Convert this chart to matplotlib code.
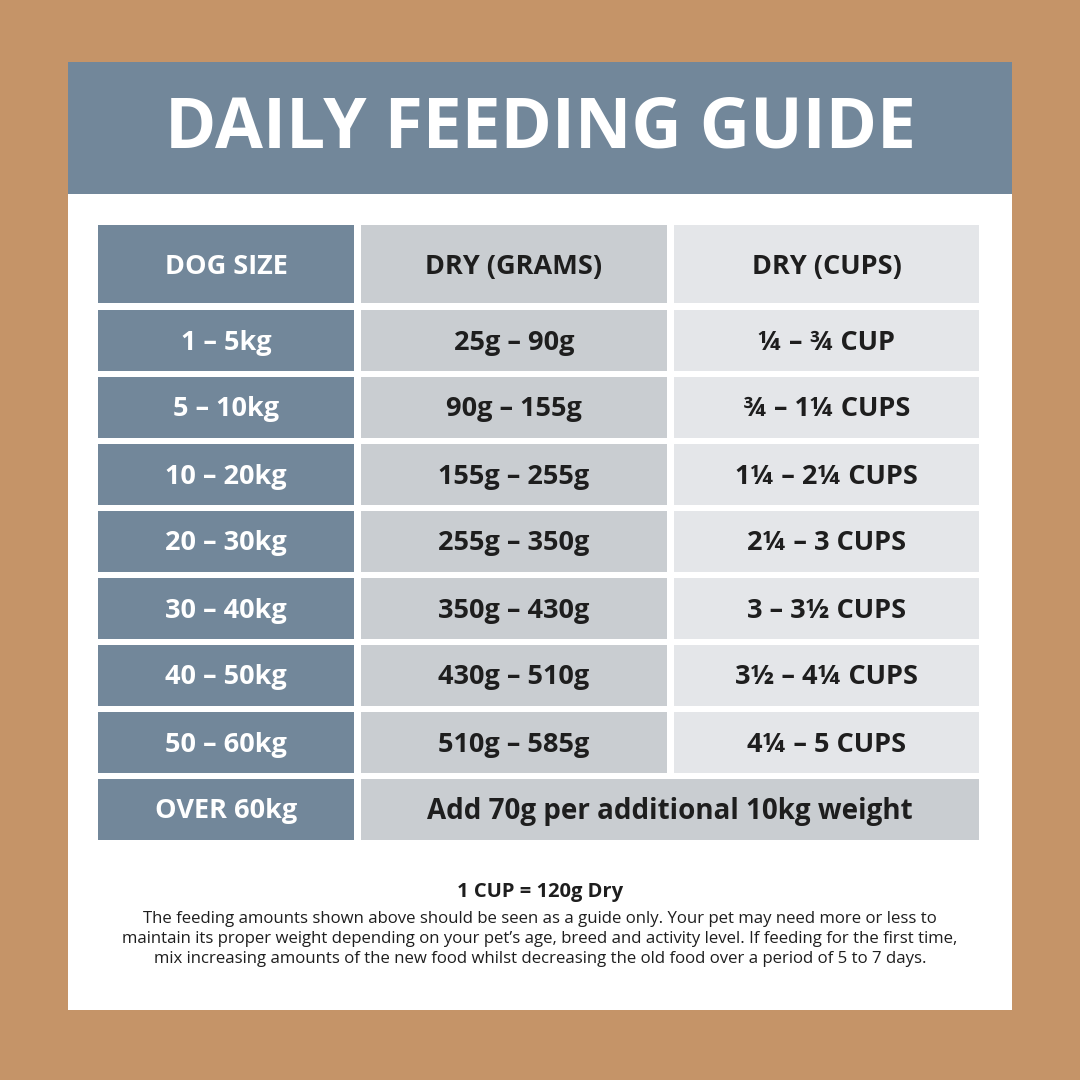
import matplotlib
matplotlib.use("Agg")
import matplotlib.pyplot as plt
from matplotlib.patches import Rectangle

plt.rcParams['font.family'] = ['Open Sans', 'DejaVu Sans']

title = "DAILY FEEDING GUIDE"
headers = ["DOG SIZE", "DRY (GRAMS)", "DRY (CUPS)"]
sizes = ["1 – 5kg", "5 – 10kg", "10 – 20kg", "20 – 30kg", "30 – 40kg", "40 – 50kg", "50 – 60kg"]
grams = ["25g – 90g", "90g – 155g", "155g – 255g", "255g – 350g", "350g – 430g", "430g – 510g", "510g – 585g"]
cups = ["¼ – ¾ CUP", "¾ – 1¼ CUPS", "1¼ – 2¼ CUPS", "2¼ – 3 CUPS", "3 – 3½ CUPS", "3½ – 4¼ CUPS", "4¼ – 5 CUPS"]
last_size = "OVER 60kg"
last_note = "Add 70g per additional 10kg weight"
footer_head = "1 CUP = 120g Dry"
footer = ("The feeding amounts shown above should be seen as a guide only. Your pet may need more or less to\n"
          "maintain its proper weight depending on your pet’s age, breed and activity level. If feeding for the first time,\n"
          "mix increasing amounts of the new food whilst decreasing the old food over a period of 5 to 7 days.")

BG = "#C59468"; SLATE = "#72879A"; GREY = "#C9CDD1"; LIGHT = "#E4E6E9"; DARK = "#1E1E1E"

fig = plt.figure(figsize=(10.8, 10.8), dpi=100)
fig.patch.set_facecolor(BG)
ax = fig.add_axes([0, 0, 1, 1])
ax.set_xlim(0, 1080); ax.set_ylim(1080, 0); ax.axis('off')

def rect(x0, y0, x1, y1, c):
    ax.add_patch(Rectangle((x0, y0), x1 - x0, y1 - y0, facecolor=c, edgecolor='none'))

rect(68, 62, 1012, 1010, "white")
rect(68, 62, 1012, 194, SLATE)
ax.text(540, 130, title, ha='center', va='center', color='white', fontsize=50, fontweight='bold')

cols = [(98, 354), (361, 667), (674, 979)]
colc = [SLATE, GREY, LIGHT]
txtc = ['white', DARK, DARK]
for (x0, x1), c, tc, h in zip(cols, colc, txtc, headers):
    rect(x0, 225, x1, 303, c)
    ax.text((x0 + x1) / 2, 267, h, ha='center', va='center', color=tc, fontsize=19.5, fontweight='bold')
y = 310; hgt = 61; gap = 6
for s, g, cu in zip(sizes, grams, cups):
    for (x0, x1), c, tc, t in zip(cols, colc, txtc, [s, g, cu]):
        rect(x0, y, x1, y + hgt, c)
        ax.text((x0 + x1) / 2, y + hgt / 2 + 2, t, ha='center', va='center', color=tc, fontsize=19.5, fontweight='bold')
    y += hgt + gap
rect(98, y, 354, y + hgt, SLATE)
ax.text(226, y + hgt / 2 + 2, last_size, ha='center', va='center', color='white', fontsize=19.5, fontweight='bold')
rect(361, y, 979, y + hgt, GREY)
ax.text(670, y + hgt / 2 + 2, last_note, ha='center', va='center', color=DARK, fontsize=20, fontweight='bold')

ax.text(540, 892, footer_head, ha='center', va='center', color=DARK, fontsize=14.5, fontweight='bold')
ax.text(540, 939, footer, ha='center', va='center', color=DARK, fontsize=12.1, linespacing=1.3)

fig.savefig("out.png", dpi=100, facecolor=fig.get_facecolor())
